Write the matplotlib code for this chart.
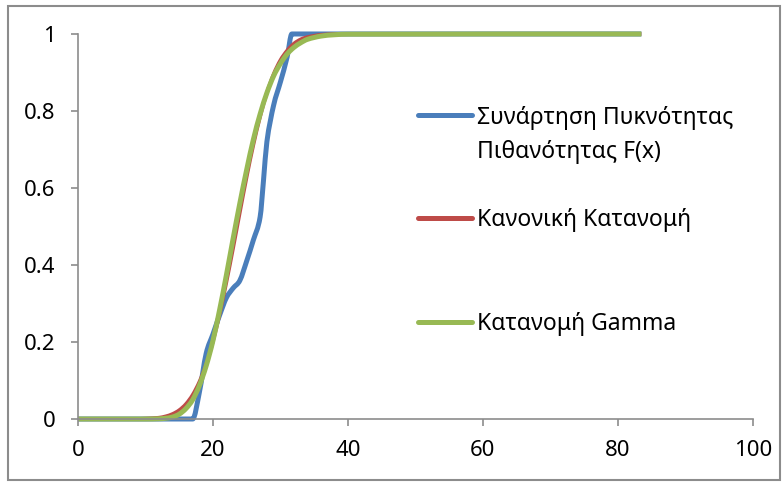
import matplotlib
matplotlib.use("Agg")
import matplotlib.pyplot as plt
from matplotlib.lines import Line2D
from matplotlib.patches import PathPatch, Rectangle
from matplotlib.path import Path

plt.rcParams["font.family"] = ["Noto Sans", "DejaVu Sans"]

# empirical distribution (blue)
x_emp = [0, 15, 16, 17, 18, 19, 20, 21, 22, 23, 24, 25, 26, 27, 27.5, 28, 29, 30, 31, 31.7, 83.5]
y_emp = [0, 0, 0, 0.0, 0.07, 0.17, 0.22, 0.27, 0.315, 0.34, 0.36, 0.41, 0.465, 0.525, 0.62,
         0.72, 0.815, 0.875, 0.94, 1.0, 1.0]

# fitted curves
x_fit = [0, 8, 10, 12, 13, 14, 15, 16, 17, 18, 19, 20, 21, 22, 23, 24, 25, 26, 27, 28,
         29, 30, 31, 32, 33, 34, 36, 38, 40, 83.5]
y_normal = [0, 0.0001, 0.001, 0.0035, 0.007, 0.013, 0.023, 0.039, 0.063, 0.097, 0.142,
            0.201, 0.273, 0.355, 0.444, 0.537, 0.628, 0.712, 0.785, 0.847, 0.896, 0.932,
            0.957, 0.975, 0.986, 0.992, 0.998, 0.9996, 1.0, 1.0]
y_gamma = [0, 0, 0, 0.0006, 0.002, 0.005, 0.0125, 0.027, 0.05, 0.087, 0.138, 0.203,
           0.284, 0.374, 0.469, 0.561, 0.647, 0.726, 0.792, 0.847, 0.891, 0.923, 0.948,
           0.965, 0.977, 0.986, 0.9945, 0.998, 0.9994, 1.0]

labels = ["Συνάρτηση Πυκνότητας\nΠιθανότητας F(x)", "Κανονική Κατανομή", "Κατανομή Gamma"]
colors = ["#4A7EBB", "#BE4B48", "#98B954"]
widths = [3.6, 2.6, 3.6]

x_ticks = [0, 20, 40, 60, 80, 100]
y_ticks = [0, 0.2, 0.4, 0.6, 0.8, 1]
y_ticklabels = ["0", "0.2", "0.4", "0.6", "0.8", "1"]


def smooth_path(xs, ys):
    # smoothed line: cubic Hermite segments as Bezier curves, flat where data is flat
    n = len(xs)
    secants = [(ys[i + 1] - ys[i]) / (xs[i + 1] - xs[i]) for i in range(n - 1)]
    slopes = [0.0] * n
    for i in range(1, n - 1):
        if secants[i - 1] * secants[i] > 0:
            slopes[i] = (ys[i + 1] - ys[i - 1]) / (xs[i + 1] - xs[i - 1])
    verts = [(xs[0], ys[0])]
    codes = [Path.MOVETO]
    for i in range(n - 1):
        h = xs[i + 1] - xs[i]
        verts += [(xs[i] + h / 3, ys[i] + slopes[i] * h / 3),
                  (xs[i + 1] - h / 3, ys[i + 1] - slopes[i + 1] * h / 3),
                  (xs[i + 1], ys[i + 1])]
        codes += [Path.CURVE4] * 3
    return Path(verts, codes)


fig = plt.figure(figsize=(7.82, 4.82), dpi=100)
ax = fig.add_axes([0.0997, 0.1307, 0.8628, 0.7988])

series = [(x_emp, y_emp), (x_fit, y_normal), (x_fit, y_gamma)]
for (xs, ys), c, lw in zip(series, colors, widths):
    ax.add_patch(PathPatch(smooth_path(xs, ys), fill=False, edgecolor=c, lw=lw,
                           capstyle="butt", joinstyle="round", clip_on=False))

ax.set_xlim(0, 100)
ax.set_ylim(0, 1)
ax.set_xticks(x_ticks)
ax.set_yticks(y_ticks, y_ticklabels)
for side in ["top", "right"]:
    ax.spines[side].set_visible(False)
for side in ["left", "bottom"]:
    ax.spines[side].set_color("#8c8c8c")
    ax.spines[side].set_linewidth(1.2)
ax.tick_params(direction="out", length=5, width=1.2, color="#8c8c8c",
               labelsize=16, labelcolor="black")
ax.tick_params(axis="x", pad=10)
ax.tick_params(axis="y", pad=11)

# legend, drawn by hand to keep Excel's spacing
handle_y = [115, 218, 322]
for hy, c in zip(handle_y, colors):
    fy = 1 - hy / 482
    fig.add_artist(Line2D([418 / 782, 472 / 782], [fy, fy], color=c, lw=3.6,
                          solid_capstyle="round", transform=fig.transFigure))
text_lines = [(labels[0].split("\n")[0], 118), (labels[0].split("\n")[1], 152),
              (labels[1], 220), (labels[2], 324)]
for txt, ty in text_lines:
    fig.text(477 / 782, 1 - ty / 482, txt, fontsize=16.5, va="center", ha="left")

fig.add_artist(Rectangle((8 / 782, 2 / 482), 772 / 782, 474 / 482, transform=fig.transFigure,
                         fill=False, edgecolor="#8c8c8c", lw=1.5))

fig.savefig("out.png", dpi=100)
